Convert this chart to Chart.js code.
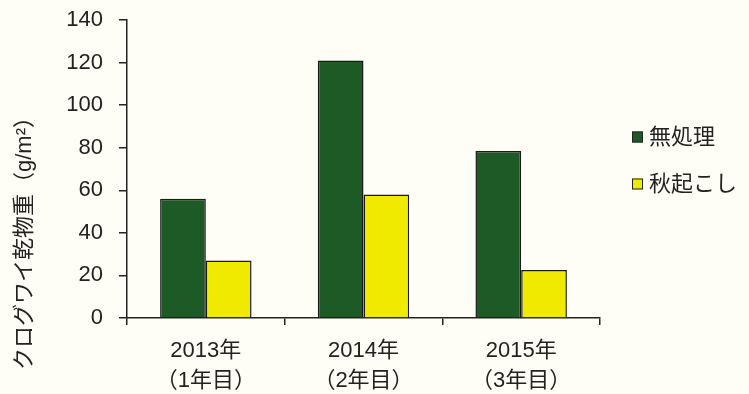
<!DOCTYPE html>
<html>
<head>
<meta charset="utf-8">
<script src="https://cdn.jsdelivr.net/npm/chart.js@4"></script>
<style>
  body { margin: 0; background: #fefdf6; }
  #wrap { width: 749px; height: 394px; }
</style>
</head>
<body>
<div id="wrap"><canvas id="myChart" width="749" height="394"></canvas></div>
<script>
'use strict';

// data
let years = [['2013年', '（1年目）'], ['2014年', '（2年目）'], ['2015年', '（3年目）']];
let seriesNames = ['無処理', '秋起こし'];
let noTreat = [56, 121, 78.5];
let autumnPlow = [27, 58, 22.5];
let yTicks = [0, 20, 40, 60, 80, 100, 120, 140];
let yTitle = 'クログワイ乾物重（g/m²）';

let green = '#1d5a26';
let yellow = '#efea00';
let jpFont = '"Liberation Sans", "Noto Sans CJK JP", sans-serif';

// y title + legend drawn by hand so they sit where the original has them
let extraText = {
  id: 'extraText',
  afterDraw(chart) {
    let ctx = chart.ctx;
    ctx.save();
    ctx.fillStyle = '#222';
    ctx.font = '22px ' + jpFont;
    ctx.textAlign = 'center';
    ctx.textBaseline = 'middle';
    ctx.translate(25, 238);
    ctx.rotate(-Math.PI / 2);
    ctx.fillText(yTitle, 0, 0);
    ctx.restore();

    let sets = chart.data.datasets;
    let legY = [137, 184];
    for (let i = 0; i < sets.length; i++) {
      ctx.save();
      ctx.fillStyle = sets[i].backgroundColor;
      ctx.strokeStyle = '#222';
      ctx.lineWidth = 1;
      ctx.fillRect(632, legY[i] - 5.5, 11, 11);
      ctx.strokeRect(632.5, legY[i] - 5, 10, 10);
      ctx.fillStyle = '#222';
      ctx.font = '22px ' + jpFont;
      ctx.textAlign = 'left';
      ctx.textBaseline = 'middle';
      ctx.fillText(sets[i].label, 649, legY[i] + 1);
      ctx.restore();
    }
  }
};

let chardata = {
  type: 'bar',
  data: {
    labels: years,
    datasets: [{
      label: seriesNames[0],
      data: noTreat,
      backgroundColor: green,
      borderColor: '#1a1a1a',
      borderWidth: 1.5,
      categoryPercentage: 0.58,
      barPercentage: 1
    },
    {
      label: seriesNames[1],
      data: autumnPlow,
      backgroundColor: yellow,
      borderColor: '#1a1a1a',
      borderWidth: 1.5,
      categoryPercentage: 0.58,
      barPercentage: 1
    }]
  },
  options: {
    responsive: false,
    animation: false,
    layout: { padding: { top: 20, right: 149, left: 0, bottom: 0 } },
    plugins: {
      legend: { display: false },
      tooltip: { enabled: false }
    },
    scales: {
      x: {
        grid: { offset: true, drawOnChartArea: false, tickLength: 7, tickColor: '#222', lineWidth: 1.5 },
        border: { color: '#222', width: 1.5 },
        ticks: {
          color: '#222',
          padding: 11,
          maxRotation: 0,
          font: { family: jpFont, size: 22, lineHeight: 1.36 }
        },
        afterFit(scale) { scale.height = 76; }
      },
      y: {
        min: 0,
        max: 140,
        afterBuildTicks(scale) { scale.ticks = yTicks.map(v => ({ value: v })); },
        grid: { drawOnChartArea: false, tickLength: 8, tickColor: '#222', lineWidth: 1.5 },
        border: { color: '#222', width: 1.5 },
        ticks: {
          color: '#222',
          padding: 16,
          font: { family: '"Liberation Sans", Arial, sans-serif', size: 22 }
        },
        afterFit(scale) {
          scale.width = 127;
          scale.paddingTop = 0;
          scale.paddingBottom = 0;
        }
      }
    }
  },
  plugins: [extraText]
};

let ctx = document.getElementById('myChart').getContext('2d');
let myChart = new Chart(ctx, chardata);
</script>
</body>
</html>
